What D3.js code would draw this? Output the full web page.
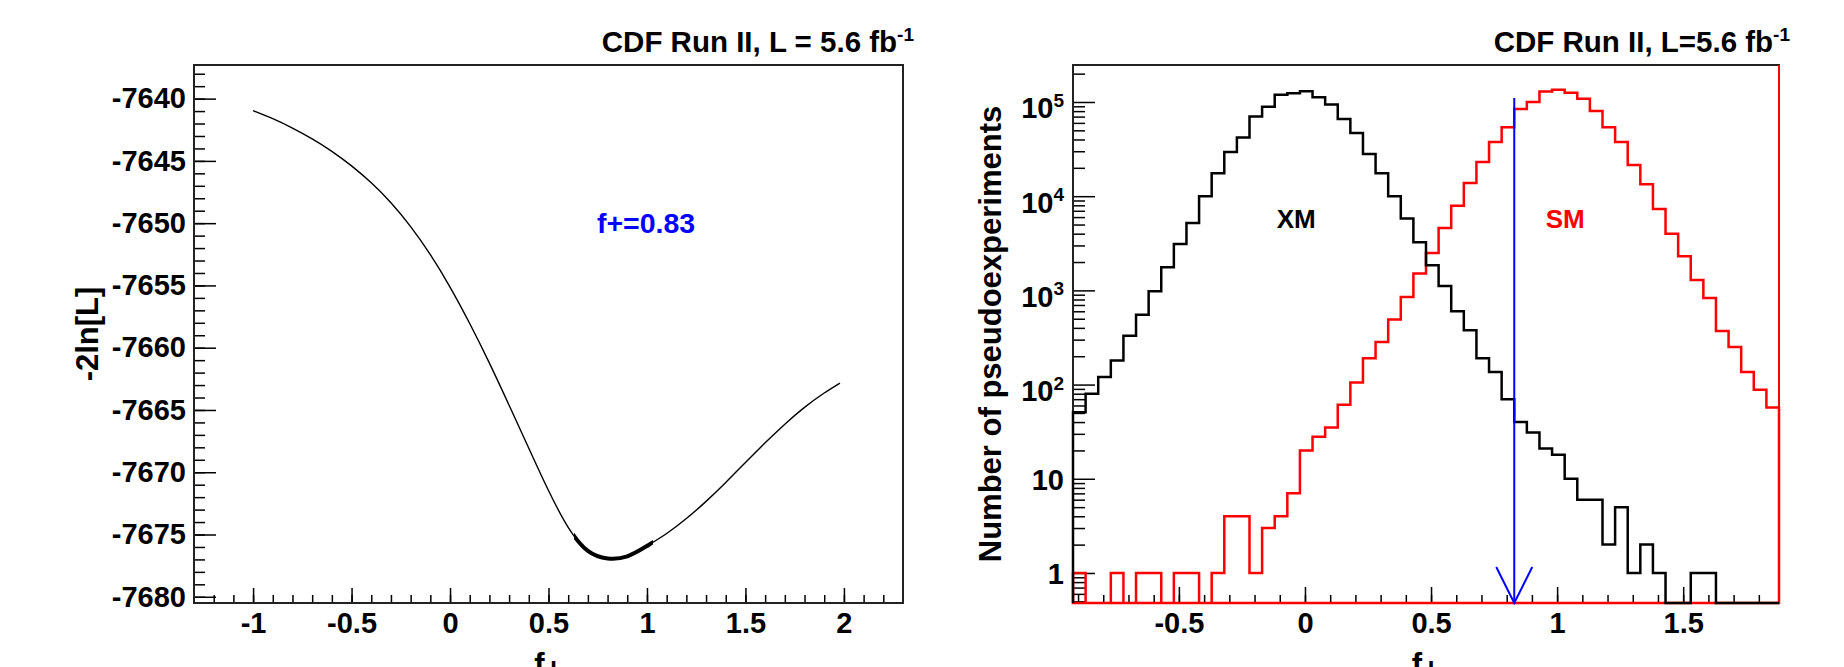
<!DOCTYPE html>
<html>
<head>
<meta charset="utf-8">
<script src="https://cdn.jsdelivr.net/npm/d3@7"></script>
<style>
    body { margin: 0; background: #fff; }
    text { font-family: "Liberation Sans", Arial, sans-serif; font-weight: bold; }
</style>
</head>
<body>
<div id="chart"></div>
<script>

// ---- left panel: likelihood scan, -2ln[L] vs f+
var scanF   = [-1.0, -0.9, -0.8, -0.7, -0.6, -0.5, -0.4, -0.3, -0.2, -0.1, 0.0,
               0.1, 0.2, 0.3, 0.4, 0.5, 0.6, 0.7, 0.8, 0.9, 1.0,
               1.1, 1.2, 1.3, 1.4, 1.5, 1.6, 1.7, 1.8, 1.9, 1.98];
var scanNLL = [-7640.96, -7641.61, -7642.36, -7643.23, -7644.23, -7645.40, -7646.76, -7648.36, -7650.28, -7652.53, -7655.13,
               -7658.06, -7661.24, -7664.62, -7668.07, -7671.47, -7674.42, -7676.32, -7676.92, -7676.75, -7675.92,
               -7674.92, -7673.72, -7672.34, -7670.82, -7669.22, -7667.64, -7666.14, -7664.79, -7663.64, -7662.84];
var sigmaBand = [0.63, 1.03];
var fitValue = 0.83;
var fitLabel = "f+=0.83";

var leftXTicks = [-1, -0.5, 0, 0.5, 1, 1.5, 2];
var leftYTicks = [-7680, -7675, -7670, -7665, -7660, -7655, -7650, -7645, -7640];

// ---- right panel: pseudoexperiments, 56 bins of 0.05
var binStart = -0.92;
var binWidth = 0.05;
var xmCounts = [51, 80, 120, 180, 330, 550, 980, 1760, 3100, 5200,
                10000, 17500, 29500, 42000, 70000, 89000, 119000, 124000, 130000, 112000,
                94000, 66000, 47000, 28000, 17500, 10000, 5800, 3250, 1850, 1110,
                600, 378, 190, 136, 70, 40, 31, 21, 18, 10,
                6, 6, 2, 5, 1, 2, 1, 0, 0, 1,
                1, 0, 0, 0, 0, 0];
var smCounts = [1, 0, 0, 1, 0, 1, 1, 0, 1, 1,
                0, 1, 4, 4, 1, 3, 4, 7, 20, 28,
                35, 61, 105, 190, 283, 490, 850, 1510, 2500, 4600,
                7900, 13800, 23000, 37700, 54000, 84000, 100000, 129000, 135000, 125000,
                108000, 80000, 54000, 37700, 21400, 13400, 7300, 4000, 2300, 1290,
                830, 370, 250, 136, 88, 57];
var arrowTop = 1.1e5;

var rightXTicks = [-0.5, 0, 0.5, 1, 1.5];
var rightYTicks = [1, 10, 100, 1000, 10000, 100000];
var rightYLabels = ["1", "10", "10|2", "10|3", "10|4", "10|5"];

var seriesLabels = [{ name: "XM", f: -0.035, n: 4600, color: "#000" },
                    { name: "SM", f: 1.032, n: 4600, color: "#ff0000" }];

var titleLeft = "CDF Run II, L = 5.6 fb";
var titleRight = "CDF Run II, L=5.6 fb";

var width = 1844, height = 667;

var svg = d3.select("#chart").append("svg")
    .attr("width", width)
    .attr("height", height);

function minorRange(a, b, step) {
    var out = [];
    for (var v = a; v <= b + 1e-9; v += step) out.push(Math.round(v * 1000) / 1000);
    return out;
}

function styleAxis(g) {
    g.select(".domain").remove();
    g.selectAll(".tick line").attr("stroke", "#000").attr("stroke-width", 1.5);
    g.selectAll("text").attr("fill", "#000").style("font-size", "29px");
}

/* ---------------- left panel ---------------- */
var lp = { x0: 194, x1: 903, y0: 65, y1: 603 };

var xL = d3.scaleLinear().domain([-1.3, 2.3]).range([lp.x0, lp.x1]);
var yL = d3.scaleLinear().domain([-7680.5, -7637.3]).range([lp.y1, lp.y0]);

var gL = svg.append("g");

gL.append("g")
    .attr("transform", "translate(0," + lp.y1 + ")")
    .call(d3.axisBottom(xL).tickValues(minorRange(-1.2, 2.2, 0.1)).tickSize(-8).tickSizeOuter(0).tickFormat(""))
    .call(styleAxis);
gL.append("g")
    .attr("transform", "translate(0," + lp.y1 + ")")
    .call(d3.axisBottom(xL).tickValues(leftXTicks).tickSize(-15).tickSizeOuter(0).tickPadding(9)
        .tickFormat(function(d){ return String(d); }))
    .call(styleAxis);

gL.append("g")
    .attr("transform", "translate(" + lp.x0 + ",0)")
    .call(d3.axisLeft(yL).tickValues(minorRange(-7680, -7638, 1)).tickSize(-11).tickSizeOuter(0).tickFormat(""))
    .call(styleAxis);
gL.append("g")
    .attr("transform", "translate(" + lp.x0 + ",0)")
    .call(d3.axisLeft(yL).tickValues(leftYTicks).tickSize(-22).tickSizeOuter(0).tickPadding(8)
        .tickFormat(function(d){ return String(d); }))
    .call(styleAxis);

gL.append("rect")
    .attr("x", lp.x0).attr("y", lp.y0)
    .attr("width", lp.x1 - lp.x0).attr("height", lp.y1 - lp.y0)
    .attr("fill", "none").attr("stroke", "#222").attr("stroke-width", 2);

var scanLine = d3.line()
    .x(function(d){ return xL(d[0]); })
    .y(function(d){ return yL(d[1]); })
    .curve(d3.curveNatural);
var scanData = scanF.map(function(f, i){ return [f, scanNLL[i]]; });

gL.append("path")
    .attr("d", scanLine(scanData))
    .attr("fill", "none").attr("stroke", "#000").attr("stroke-width", 1.4);

// thicker part of the curve inside the 1 sigma interval
svg.append("clipPath").attr("id", "bandClip")
    .append("rect")
    .attr("x", xL(sigmaBand[0])).attr("y", lp.y0)
    .attr("width", xL(sigmaBand[1]) - xL(sigmaBand[0])).attr("height", lp.y1 - lp.y0);
gL.append("path")
    .attr("d", scanLine(scanData))
    .attr("clip-path", "url(#bandClip)")
    .attr("fill", "none").attr("stroke", "#000").attr("stroke-width", 4);

gL.append("text")
    .attr("x", xL(0.746)).attr("y", yL(-7650.8))
    .attr("fill", "#0000ff").style("font-size", "28.5px")
    .text(fitLabel);

gL.append("text")
    .attr("x", lp.x1 + 11).attr("y", 52)
    .attr("text-anchor", "end").style("font-size", "29.5px")
    .text(titleLeft)
    .append("tspan").attr("dy", -11).style("font-size", "19px").text("-1");

gL.append("text")
    .attr("transform", "translate(98," + ((lp.y0 + lp.y1) / 2) + ") rotate(-90)")
    .attr("text-anchor", "middle").style("font-size", "31px")
    .text("-2ln[L]");

gL.append("text")
    .attr("x", (lp.x0 + lp.x1) / 2).attr("y", 675)
    .attr("text-anchor", "middle").style("font-size", "31px")
    .text("f").append("tspan").attr("dy", 4).text("+");

/* ---------------- right panel ---------------- */
var rp = { x0: 1073, x1: 1779, y0: 65, y1: 603 };

var xR = d3.scaleLinear().domain([binStart, binStart + binWidth * xmCounts.length]).range([rp.x0, rp.x1]);
var yR = d3.scaleLog().domain([0.48, 2.47e5]).range([rp.y1, rp.y0]);

var gR = svg.append("g");

gR.append("g")
    .attr("transform", "translate(0," + rp.y1 + ")")
    .call(d3.axisBottom(xR).tickValues(minorRange(-0.9, 1.8, 0.1)).tickSize(-8).tickSizeOuter(0).tickFormat(""))
    .call(styleAxis);
gR.append("g")
    .attr("transform", "translate(0," + rp.y1 + ")")
    .call(d3.axisBottom(xR).tickValues(rightXTicks).tickSize(-16).tickSizeOuter(0).tickPadding(9)
        .tickFormat(function(d){ return String(d); }))
    .call(styleAxis);

var logMinor = [];
[0.1, 1, 10, 100, 1000, 10000, 100000].forEach(function(dec){
    for (var k = 2; k <= 9; k++) {
        var v = k * dec;
        if (v > yR.domain()[0] && v < yR.domain()[1]) logMinor.push(v);
    }
});
gR.append("g")
    .attr("transform", "translate(" + rp.x0 + ",0)")
    .call(d3.axisLeft(yR).tickValues(logMinor).tickSize(-12).tickSizeOuter(0).tickFormat(""))
    .call(styleAxis);
var yAxisR = gR.append("g")
    .attr("transform", "translate(" + rp.x0 + ",0)")
    .call(d3.axisLeft(yR).tickValues(rightYTicks).tickSize(-22).tickSizeOuter(0).tickPadding(9)
        .tickFormat(function(d, i){ return ""; }))
    .call(styleAxis);

// log labels, 10 with a raised exponent
yAxisR.selectAll(".tick").each(function(d, i){
    var parts = rightYLabels[i].split("|");
    var t = d3.select(this).select("text")
        .attr("dy", parts.length > 1 ? "0.55em" : "0.36em")
        .style("font-size", "29px");
    t.text(parts[0]);
    if (parts.length > 1) {
        t.append("tspan").attr("dy", "-0.6em").style("font-size", "19px").text(parts[1]);
    }
});

function histPath(counts, closed) {
    var yv = function(v){ return v > 0 ? yR(v) : rp.y1; };
    var d = "M" + xR(binStart) + "," + rp.y1;
    counts.forEach(function(c, i){
        var a = xR(binStart + i * binWidth), b = xR(binStart + (i + 1) * binWidth);
        d += "L" + a + "," + yv(c) + "L" + b + "," + yv(c);
    });
    d += "L" + xR(binStart + counts.length * binWidth) + "," + rp.y1;
    if (closed) d += "Z";
    return d;
}

gR.append("rect")
    .attr("x", rp.x0).attr("y", rp.y0)
    .attr("width", rp.x1 - rp.x0).attr("height", rp.y1 - rp.y0)
    .attr("fill", "none").attr("stroke", "#222").attr("stroke-width", 2);

gR.append("path")
    .attr("d", histPath(smCounts, true))
    .attr("fill", "none").attr("stroke", "#ff0000").attr("stroke-width", 2.5);
gR.append("line")
    .attr("x1", rp.x1).attr("x2", rp.x1).attr("y1", rp.y0).attr("y2", rp.y1)
    .attr("stroke", "#ff0000").attr("stroke-width", 2);

gR.append("path")
    .attr("d", histPath(xmCounts, false))
    .attr("fill", "none").attr("stroke", "#000").attr("stroke-width", 2.5);

// arrow at the fitted value
var ax = xR(fitValue);
gR.append("line")
    .attr("x1", ax).attr("x2", ax).attr("y1", yR(arrowTop)).attr("y2", rp.y1)
    .attr("stroke", "#0000ff").attr("stroke-width", 2);
gR.append("path")
    .attr("d", "M" + (ax - 18) + "," + (rp.y1 - 36) + "L" + ax + "," + rp.y1 + "L" + (ax + 18) + "," + (rp.y1 - 36))
    .attr("fill", "none").attr("stroke", "#0000ff").attr("stroke-width", 2);

gR.selectAll(".slabel")
    .data(seriesLabels)
    .enter().append("text")
    .attr("class", "slabel")
    .attr("x", function(d){ return xR(d.f); })
    .attr("y", function(d){ return yR(d.n); })
    .attr("text-anchor", "middle")
    .attr("fill", function(d){ return d.color; })
    .style("font-size", "26px")
    .text(function(d){ return d.name; });

gR.append("text")
    .attr("x", rp.x1 + 11).attr("y", 52)
    .attr("text-anchor", "end").style("font-size", "29.5px")
    .text(titleRight)
    .append("tspan").attr("dy", -11).style("font-size", "19px").text("-1");

gR.append("text")
    .attr("transform", "translate(1001," + ((rp.y0 + rp.y1) / 2) + ") rotate(-90)")
    .attr("text-anchor", "middle").style("font-size", "31px")
    .text("Number of pseudoexperiments");

gR.append("text")
    .attr("x", (rp.x0 + rp.x1) / 2).attr("y", 675)
    .attr("text-anchor", "middle").style("font-size", "31px")
    .text("f").append("tspan").attr("dy", 4).text("+");

</script>
</body>
</html>
